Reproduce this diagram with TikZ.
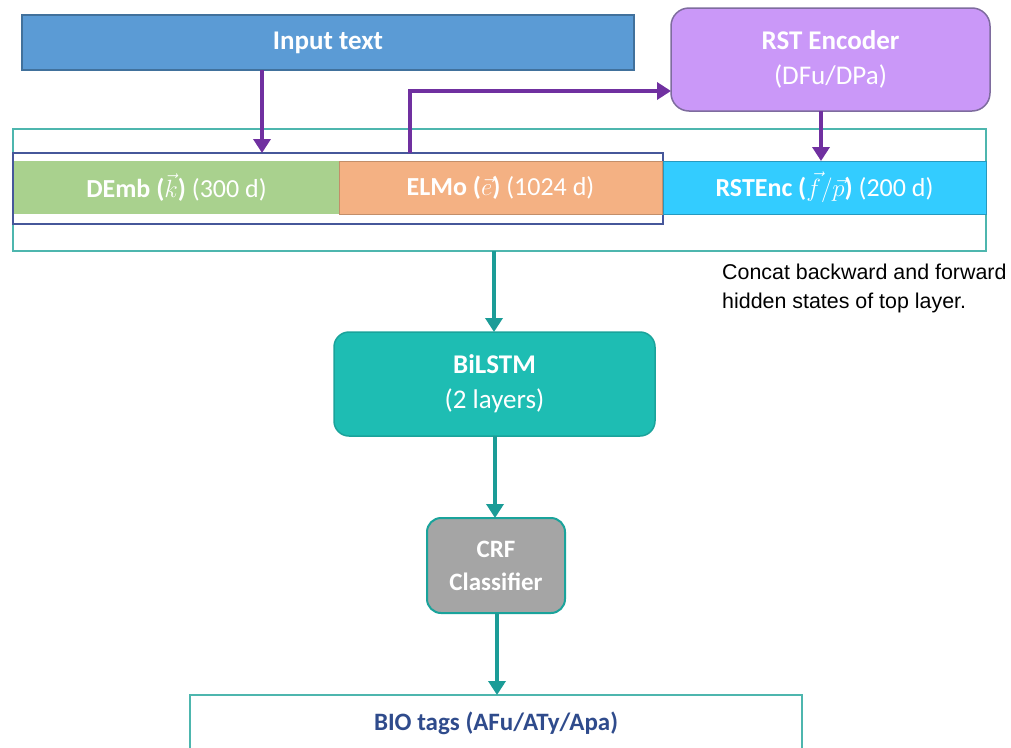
\documentclass[tikz,border=0pt]{standalone}
\usepackage{fontspec}
\setmainfont{Carlito}
\newfontfamily\arialfont{Liberation Sans}
\usetikzlibrary{arrows.meta,calc}
\definecolor{inblue}{HTML}{5B9BD5}
\definecolor{inbluedark}{HTML}{41719C}
\definecolor{rstpurple}{HTML}{CA98F8}
\definecolor{rstborder}{HTML}{7E6C9E}
\definecolor{arrpurple}{HTML}{7030A0}
\definecolor{outerteal}{HTML}{4DB6AE}
\definecolor{innernavy}{HTML}{46579A}
\definecolor{dgreen}{HTML}{A9D18E}
\definecolor{dorange}{HTML}{F4B183}
\definecolor{dcyan}{HTML}{33CCFF}
\definecolor{lstmteal}{HTML}{1EBDB3}
\definecolor{lstmborder}{HTML}{1AA39B}
\definecolor{arrteal}{HTML}{1B9C97}
\definecolor{crfgray}{HTML}{A5A5A5}
\definecolor{biotext}{HTML}{2F4B8C}
\tikzset{
  boxbase/.style={anchor=north west, inner sep=0pt, outer sep=0pt, align=center, text=white},
  bigfont/.style={font=\fontsize{27}{35}\selectfont},
  midfont/.style={font=\fontsize{26}{35}\selectfont},
  parrow/.style={draw=arrpurple, line width=4pt, -{Triangle[length=14pt,width=17pt]}},
  tarrow/.style={draw=arrteal, line width=4pt, -{Triangle[length=14pt,width=17pt]}},
}
\begin{document}
\begin{tikzpicture}[x=1pt,y=-1pt]
\useasboundingbox (0,0) rectangle (1011,747);
% top boxes
\node[boxbase, bigfont, fill=inblue, draw=inbluedark, line width=1.5pt,
  minimum width=612pt, minimum height=55pt] (input) at (22,15) {\textbf{Input text}};
\node[boxbase, bigfont, fill=rstpurple, draw=rstborder, line width=1.5pt, rounded corners=18pt,
  minimum width=319pt, minimum height=103pt] (rst) at (671,8) {\textbf{RST Encoder}\\(DFu/DPa)};
% frames
\node[boxbase, draw=outerteal, line width=1.5pt, minimum width=973pt, minimum height=122pt] (outer) at (13,129) {};
\node[boxbase, draw=innernavy, line width=1.5pt, minimum width=650pt, minimum height=71pt] (inner) at (13,153) {};
% embedding segments
\node[boxbase, midfont, fill=dgreen, minimum width=325pt, minimum height=53pt] (demb) at (14,161)
  {\textbf{DEmb (}$\vec{k}$\textbf{)} (300 d)};
\node[boxbase, midfont, fill=dorange, draw=dorange!80!black, line width=0.8pt, minimum width=323pt, minimum height=53pt] (elmo) at (339,161)
  {\textbf{ELMo (}$\vec{e}$\textbf{)} (1024 d)};
\node[boxbase, midfont, fill=dcyan, draw=dcyan!75!black, line width=0.8pt, minimum width=323pt, minimum height=53pt] (rstenc) at (663,161)
  {\textbf{RSTEnc (}$\vec{f}/\vec{p}$\textbf{)} (200 d)};
% note
\node[anchor=north west, inner sep=0pt, align=left, font=\arialfont\fontsize{21.4}{29}\selectfont] (note) at (722,264)
  {Concat backward and forward\\hidden states of top layer.};
% lower blocks
\node[boxbase, bigfont, fill=lstmteal, draw=lstmborder, line width=1.5pt, rounded corners=15pt,
  minimum width=321pt, minimum height=104pt] (bilstm) at (334,332) {\textbf{BiLSTM}\\(2 layers)};
\node[boxbase, font=\fontsize{25}{33}\selectfont\bfseries, fill=crfgray, draw=lstmborder, line width=2pt, rounded corners=14pt,
  minimum width=138pt, minimum height=95pt] (crf) at (427,518) {CRF\\Classifier};
\node[boxbase, text=biotext, font=\fontsize{25}{30}\selectfont\bfseries, draw=outerteal, line width=2.5pt,
  minimum width=612pt, minimum height=56pt] (bio) at (190,695) {BIO tags (AFu/ATy/Apa)};
% connectors
\draw[parrow] (input.south -| 262,0) -- (inner.north -| 262,0);
\draw[parrow] (inner.north -| 410,0) |- (rst.west |- 0,91);
\draw[parrow] (rst.south -| 821,0) -- (rstenc.north -| 821,0);
\draw[tarrow] (outer.south -| 494,0) -- (bilstm.north -| 494,0);
\draw[tarrow] (bilstm.south -| 495,0) -- (crf.north -| 495,0);
\draw[tarrow] (crf.south -| 497,0) -- (bio.north -| 497,0);
\end{tikzpicture}
\end{document}
